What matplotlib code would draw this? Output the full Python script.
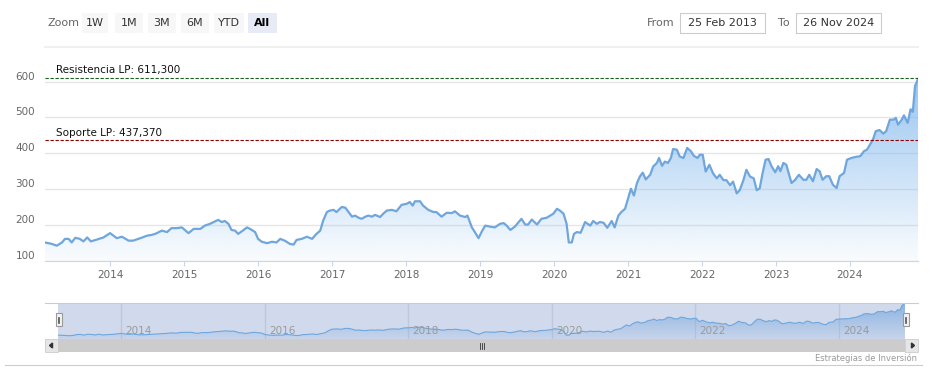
import numpy as np
import matplotlib
matplotlib.use("Agg")
import matplotlib.pyplot as plt
import matplotlib.transforms as mtransforms
from matplotlib.patches import Rectangle, Polygon

# ---- data (decimal year, price) ----
years = [
    2013.12, 2013.21, 2013.28, 2013.35, 2013.39, 2013.44, 2013.48, 2013.53, 2013.59, 2013.64,
    2013.69, 2013.74, 2013.82, 2013.91, 2014.00, 2014.09, 2014.16, 2014.25, 2014.31, 2014.41,
    2014.50, 2014.56, 2014.61, 2014.70, 2014.77, 2014.83, 2014.90, 2014.97, 2015.06, 2015.13,
    2015.22, 2015.28, 2015.35, 2015.40, 2015.46, 2015.51, 2015.55, 2015.60, 2015.64, 2015.69,
    2015.73, 2015.78, 2015.85, 2015.89, 2015.96, 2016.00, 2016.05, 2016.12, 2016.19, 2016.25,
    2016.30, 2016.36, 2016.43, 2016.48, 2016.52, 2016.59, 2016.66, 2016.73, 2016.79, 2016.84,
    2016.88, 2016.93, 2016.97, 2017.02, 2017.06, 2017.13, 2017.18, 2017.24, 2017.27, 2017.31,
    2017.36, 2017.40, 2017.45, 2017.49, 2017.54, 2017.58, 2017.65, 2017.69, 2017.74, 2017.81,
    2017.87, 2017.94, 2018.01, 2018.05, 2018.09, 2018.12, 2018.19, 2018.23, 2018.30, 2018.37,
    2018.41, 2018.48, 2018.55, 2018.62, 2018.66, 2018.73, 2018.80, 2018.83, 2018.89, 2018.93,
    2018.98, 2019.02, 2019.07, 2019.14, 2019.20, 2019.27, 2019.32, 2019.36, 2019.41, 2019.47,
    2019.56, 2019.61, 2019.65, 2019.70, 2019.77, 2019.83, 2019.90, 2019.95, 2019.99, 2020.04,
    2020.08, 2020.13, 2020.17, 2020.20, 2020.24, 2020.27, 2020.31, 2020.36, 2020.42, 2020.49,
    2020.53, 2020.58, 2020.62, 2020.67, 2020.72, 2020.78, 2020.82, 2020.87, 2020.91, 2020.96,
    2021.00, 2021.04, 2021.08, 2021.12, 2021.16, 2021.20, 2021.24, 2021.30, 2021.34, 2021.39,
    2021.42, 2021.46, 2021.50, 2021.54, 2021.58, 2021.61, 2021.66, 2021.70, 2021.75, 2021.80,
    2021.85, 2021.89, 2021.94, 2021.97, 2022.01, 2022.05, 2022.10, 2022.15, 2022.20, 2022.24,
    2022.29, 2022.33, 2022.38, 2022.42, 2022.47, 2022.51, 2022.56, 2022.60, 2022.65, 2022.70,
    2022.74, 2022.78, 2022.82, 2022.86, 2022.90, 2022.94, 2022.99, 2023.03, 2023.06, 2023.10,
    2023.14, 2023.21, 2023.26, 2023.31, 2023.37, 2023.41, 2023.45, 2023.50, 2023.55, 2023.59,
    2023.63, 2023.68, 2023.72, 2023.77, 2023.82, 2023.86, 2023.92, 2023.96, 2024.02, 2024.08,
    2024.14, 2024.19, 2024.23, 2024.27, 2024.31, 2024.35, 2024.40, 2024.45, 2024.49, 2024.54,
    2024.59, 2024.62, 2024.65, 2024.70, 2024.73, 2024.78, 2024.82, 2024.85, 2024.88, 2024.92,
]
prices = [
    151, 147, 142, 151, 161, 161, 151, 164, 161, 154,
    165, 154, 159, 165, 177, 163, 167, 156, 156, 163,
    170, 172, 175, 184, 180, 191, 191, 193, 177, 189,
    189, 198, 203, 208, 214, 208, 211, 203, 186, 184,
    175, 182, 193, 189, 180, 161, 153, 149, 153, 151,
    161, 156, 147, 145, 158, 161, 167, 161, 175, 184,
    212, 236, 240, 242, 236, 250, 248, 231, 223, 226,
    220, 217, 223, 226, 223, 228, 222, 231, 240, 242,
    238, 256, 259, 264, 254, 266, 266, 254, 242, 236,
    236, 223, 234, 233, 238, 226, 222, 226, 193, 180,
    163, 180, 198, 195, 193, 203, 205, 198, 186, 195,
    217, 201, 201, 215, 201, 217, 220, 226, 231, 245,
    240, 231, 203, 151, 151, 175, 180, 178, 208, 198,
    211, 203, 208, 206, 192, 211, 193, 226, 236, 245,
    273, 301, 282, 316, 335, 346, 327, 340, 363, 373,
    387, 365, 377, 373, 387, 412, 410, 391, 387, 415,
    406, 393, 387, 396, 396, 349, 368, 344, 330, 340,
    325, 325, 311, 321, 288, 297, 325, 354, 335, 330,
    297, 302, 345, 382, 384, 364, 347, 364, 350, 373,
    368, 317, 326, 340, 326, 326, 340, 322, 356, 350,
    326, 336, 336, 312, 303, 336, 345, 382, 387, 390,
    392, 406, 410, 424, 438, 462, 465, 455, 462, 494,
    494, 499, 480, 494, 506, 485, 523, 516, 588, 607,
]

resistance = 611.3
support = 437.37
resistance_label = "Resistencia LP: 611,300"
support_label = "Soporte LP: 437,370"

main_ticks = list(range(2014, 2025))
nav_ticks = [2014, 2016, 2018, 2020, 2022, 2024]
y_ticks = [100, 200, 300, 400, 500, 600]

zoom_buttons = ["1W", "1M", "3M", "6M", "YTD", "All"]
date_from = "25 Feb 2013"
date_to = "26 Nov 2024"
credits = "Estrategias de Inversión"

# ---- layout helpers (pixel coords, origin top-left) ----
W, H = 934, 386
XMIN, XMAX = 2013.12, 2024.92


def rect(x0, y0, x1, y1):
    return [x0 / W, 1 - y1 / H, (x1 - x0) / W, (y1 - y0) / H]


def gradient_fill(ax, x, y, base, top, a_top, a_bot, rgb):
    poly = ax.fill_between(x, y, base, color="none", lw=0)
    grad = np.zeros((256, 1, 4))
    grad[:, 0, 0:3] = rgb
    grad[:, 0, 3] = np.linspace(a_top, a_bot, 256)
    im = ax.imshow(grad, extent=[XMIN, XMAX, base, top], aspect="auto",
                   origin="upper", interpolation="bilinear", zorder=1)
    im.set_clip_path(poly.get_paths()[0], transform=ax.transData)


plt.rcParams["font.family"] = ["DejaVu Sans"]
fig = plt.figure(figsize=(W / 100, H / 100), dpi=100)
fig.patch.set_facecolor("white")

blue = (124 / 255, 181 / 255, 236 / 255)
line_col = "#6ea6dd"

# ---- overlay for buttons, scrollbar, credits ----
ov = fig.add_axes([0, 0, 1, 1], zorder=5)
ov.set_xlim(0, W)
ov.set_ylim(H, 0)
ov.axis("off")
ov.patch.set_alpha(0)

narrow = ["Liberation Sans Narrow", "DejaVu Sans"]
ov.text(47, 23, "Zoom", fontsize=8, color="#666666", va="center", family=narrow)
btn_x = [(82, 108), (115, 143), (148, 176), (181, 209), (214, 244), (248, 277)]
for (bx0, bx1), lab in zip(btn_x, zoom_buttons):
    sel = lab == "All"
    ov.add_patch(Rectangle((bx0, 13), bx1 - bx0, 20, lw=0,
                           facecolor="#e6ebf5" if sel else "#f7f7f7"))
    ov.text((bx0 + bx1) / 2, 23, lab, ha="center", va="center", fontsize=8,
            color="#000000" if sel else "#333333",
            fontweight="bold" if sel else "normal", family=narrow)

ov.text(674, 23, "From", ha="right", va="center", fontsize=8, color="#666666", family=narrow)
ov.add_patch(Rectangle((680, 13), 85, 20, facecolor="white", edgecolor="#cccccc", lw=0.8))
ov.text(722.5, 23, date_from, ha="center", va="center", fontsize=8, color="#333333", family=narrow)
ov.text(790, 23, "To", ha="right", va="center", fontsize=8, color="#666666", family=narrow)
ov.add_patch(Rectangle((796, 13), 85, 20, facecolor="white", edgecolor="#cccccc", lw=0.8))
ov.text(838.5, 23, date_to, ha="center", va="center", fontsize=8, color="#333333", family=narrow)
ov.plot([45, 918], [47, 47], color="#f0f0f0", lw=1.5)

# navigator outline and handles
ov.plot([45, 918], [303, 303], color="#cccccc", lw=0.8)
for hx in (55.5, 902.5):
    ov.add_patch(Rectangle((hx, 313), 6, 13, facecolor="#f2f2f2", edgecolor="#999999", lw=0.8))
    ov.plot([hx + 2.3, hx + 2.3], [316.5, 322.5], color="#333333", lw=0.5)
    ov.plot([hx + 3.7, hx + 3.7], [316.5, 322.5], color="#333333", lw=0.5)

# scrollbar
ov.add_patch(Rectangle((45, 339), 873, 13, facecolor="#f2f2f2", lw=0))
ov.add_patch(Rectangle((58, 339), 847, 13, facecolor="#cccccc", lw=0))
for bx in (45, 905):
    ov.add_patch(Rectangle((bx, 339), 13, 13, facecolor="#e6e6e6", edgecolor="#cccccc", lw=0.6))
ov.add_patch(Polygon([(49.5, 345.5), (52.5, 343), (52.5, 348)], closed=True, color="#333333"))
ov.add_patch(Polygon([(914.5, 345.5), (911.5, 343), (911.5, 348)], closed=True, color="#333333"))
for gx in (479.5, 481.5, 483.5):
    ov.plot([gx, gx], [342.5, 348.5], color="#333333", lw=0.6)

ov.text(917, 358, credits, ha="right", va="center", fontsize=6, color="#999999")
ov.plot([5, 922], [365, 365], color="#cccccc", lw=0.8)

# ---- main chart ----
ax = fig.add_axes(rect(45, 62, 918, 261), zorder=2)
ax.set_facecolor("none")
YMIN, YMAX = 99.2, 655
ax.set_xlim(XMIN, XMAX)
ax.set_ylim(YMIN, YMAX)

gradient_fill(ax, years, prices, YMIN, YMAX, 0.85, 0.04, blue)
ax.plot(years, prices, color=line_col, lw=1.6, zorder=3, solid_joinstyle="round")

for v in y_ticks:
    ax.axhline(v, color="#e6e6e6", lw=1, zorder=0)

ax.axhline(resistance, color="#1b5e20", lw=0.8, ls=(0, (3, 1.5)), zorder=4)
ax.axhline(support, color="#8b0000", lw=0.8, ls=(0, (3, 1.5)), zorder=4)
lab_tr = mtransforms.offset_copy(
    mtransforms.blended_transform_factory(ax.transAxes, ax.transData),
    fig=fig, y=3, units="points")
ax.text(0.0126, resistance, resistance_label, transform=lab_tr, fontsize=7.5,
        color="#111111", va="baseline", zorder=5)
ax.text(0.0126, support, support_label, transform=lab_tr, fontsize=7.5,
        color="#111111", va="baseline", zorder=5)

for s in ("top", "right", "left"):
    ax.spines[s].set_visible(False)
ax.spines["bottom"].set_color("#ccd6eb")
ax.set_xticks(main_ticks)
ax.set_xticklabels([str(t) for t in main_ticks])
ax.set_yticks(y_ticks)
ax.set_yticklabels([str(v) for v in y_ticks])
ax.tick_params(axis="x", length=3.6, color="#ccd6eb", labelsize=7.5,
               labelcolor="#666666", pad=3)
ax.tick_params(axis="y", length=0, labelsize=7.5, labelcolor="#666666", pad=7)
for t in ax.get_yticklabels():
    t.set_va("bottom")

# ---- navigator ----
nav = fig.add_axes(rect(58, 303, 905, 339), zorder=3)
NMIN, NMAX = 95, 620
nav.set_xlim(XMIN, XMAX)
nav.set_ylim(NMIN, NMAX)
nav.axis("off")
nav.add_patch(Rectangle((0, 0), 1, 1, transform=nav.transAxes, facecolor="white", lw=0, zorder=0))
for t in nav_ticks:
    nav.axvline(t, color="#e6e6e6", lw=1, zorder=1)
nav.add_patch(Rectangle((0, 0), 1, 1, transform=nav.transAxes, lw=0, zorder=2,
                        facecolor=(102 / 255, 133 / 255, 194 / 255, 0.3)))
gradient_fill(nav, years, prices, NMIN, NMAX, 0.75, 0.1, blue)
nav.plot(years, prices, color=line_col, lw=0.8, zorder=3)
nav_tr = mtransforms.offset_copy(nav.get_xaxis_transform(), fig=fig, x=3, units="points")
for t in nav_ticks:
    nav.text(t, 0.22, str(t), transform=nav_tr, fontsize=7.5, color="#999999",
             va="center", ha="left", zorder=4)

fig.savefig("out.png", dpi=100, facecolor="white")
